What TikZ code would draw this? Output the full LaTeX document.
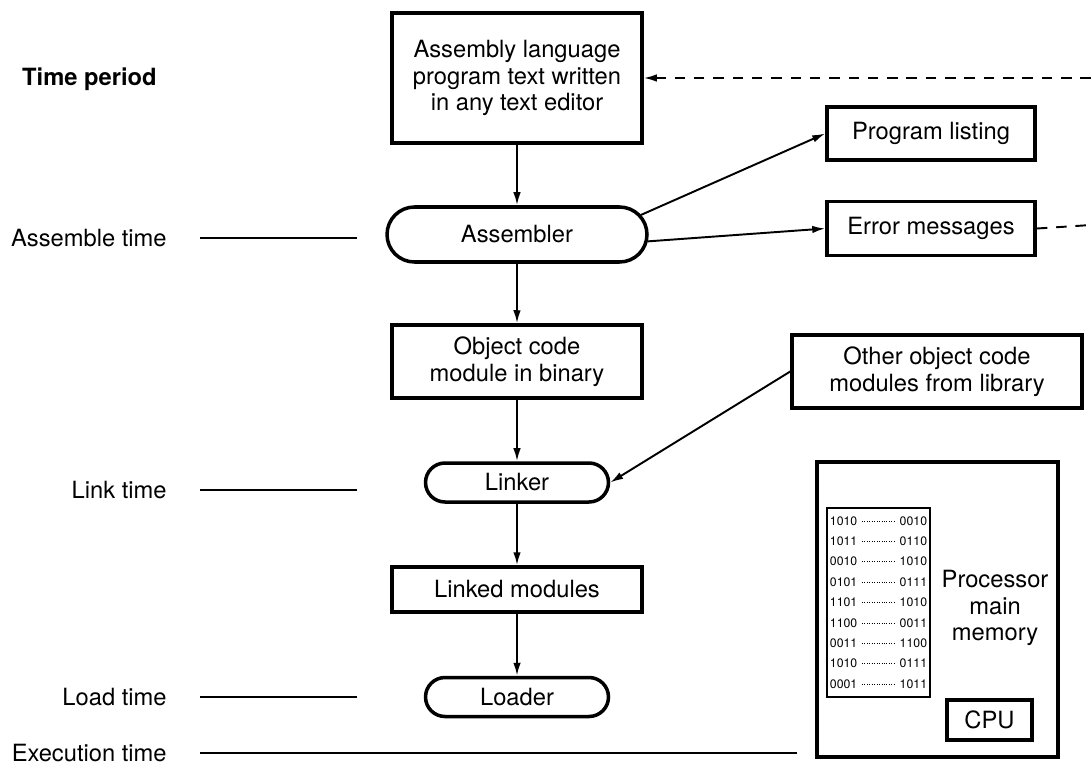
\documentclass[tikz,border=0pt]{standalone}
\usepackage{fontspec}
\setmainfont{TeX Gyre Heros}
\usetikzlibrary{arrows.meta,calc,shapes.misc,positioning}

\begin{document}
\begin{tikzpicture}[node distance=1.3cm, >={Latex[length=2.6mm,width=1.5mm]},
    font=\fontsize{13.5}{15.3}\selectfont,
    box/.style={rectangle, draw, line width=2pt, align=center, inner sep=2pt},
    pill/.style={rounded rectangle, draw, line width=2pt, minimum width=3.8cm, minimum height=0.78cm, inner sep=2pt},
    flow/.style={->, line width=1.1pt},
    dline/.style={line width=1.1pt, dash pattern=on 6pt off 5pt},
    tlabel/.style={anchor=east, inner sep=0pt},
    tline/.style={line width=1.3pt},
    bits/.style={inner sep=0.4pt, font=\fontsize{7}{8}\selectfont}]
    \useasboundingbox (0,0) rectangle (21.82,-15.32);

    % main column
    \node[box, minimum width=5cm, minimum height=2.6cm] (src) at (10.34,-1.56) {Assembly language\\program text written\\in any text editor};
    \node[pill, minimum width=5.34cm, minimum height=1.1cm] (asm) at (10.34,-4.69) {Assembler};
    \node[box, minimum width=5cm, minimum height=1.46cm] (obj) at (10.34,-7.23) {Object code\\module in binary};
    \node[pill] (lnk) at (10.34,-9.65) {Linker};
    \node[box, minimum width=5cm, minimum height=0.9cm] (lmod) at (10.34,-11.79) {Linked modules};
    \node[pill] (ldr) at (10.34,-13.94) {Loader};

    % outputs and library
    \node[box, minimum width=4.16cm, minimum height=1.06cm] (plist) at (18.62,-2.67) {Program listing};
    \node[box, minimum width=4.16cm, minimum height=1.08cm, below=0.76cm of plist] (err) {Error messages};
    \node[box, minimum width=5.8cm, minimum height=1.46cm] (lib) at (18.74,-7.43) {Other object code\\modules from library};

    % memory
    \node[box, minimum width=4.82cm, minimum height=5.9cm] (mem) at (18.75,-12.19) {};
    \node[draw, line width=1.3pt, minimum width=2.06cm, minimum height=3.78cm] (memtab) at (17.57,-12.05) {};
    \node[align=center] (memtxt) at (19.9,-12.16) {Processor\\main\\memory};
    \node[box, minimum width=1.7cm, minimum height=0.8cm] (cpu) at (19.79,-14.4) {CPU};
    \foreach \l/\r [count=\i from 0] in {1010/0010,1011/0110,0010/1010,0101/0111,1101/1010,1100/0011,0011/1100,1010/0111,0001/1011} {
        \node[bits, anchor=west] (l\i) at ($(memtab.north west)+(0.06,{-0.28-0.408*\i})$) {\l};
        \node[bits, anchor=east] (r\i) at ($(memtab.north east)+(-0.06,{-0.28-0.408*\i})$) {\r};
        \draw[densely dotted, line width=0.4pt, shorten <=2pt, shorten >=2pt] (l\i) -- (r\i);
    }

    % time periods
    \node[tlabel] (tper) at (3.14,-1.58) {\bfseries Time period};
    \node[tlabel] (tasm) at (3.34,-4.76) {Assemble time};
    \node[tlabel] (tlnk) at (3.34,-9.8) {Link time};
    \node[tlabel] (tldr) at (3.34,-13.94) {Load time};
    \node[tlabel] (texe) at (3.34,-15.06) {Execution time};
    \draw[tline] ([xshift=0.66cm]tasm.east) -- ([xshift=3.8cm]tasm.east);
    \draw[tline] ([xshift=0.66cm]tlnk.east) -- ([xshift=3.8cm]tlnk.east);
    \draw[tline] ([xshift=0.66cm]tldr.east) -- ([xshift=3.8cm]tldr.east);
    \draw[tline] ([xshift=0.66cm]texe.east) -- ([xshift=12.6cm]texe.east);

    % connectors
    \coordinate (topend) at (21.82,-1.56);
    \coordinate (errend) at (21.82,-4.5);
    \draw[flow] (src) -- (asm);
    \draw[flow] (asm.9) -- (plist.west);
    \draw[flow] (asm.-3) -- (err.west);
    \draw[flow] (asm) -- (obj);
    \draw[flow] (obj) -- (lnk);
    \draw[flow] (lib.west) -- (lnk.east);
    \draw[flow] (lnk) -- (lmod);
    \draw[flow] (lmod) -- (ldr);
    \draw[dline, ->] (topend) -- (src.east);
    \draw[dline] (err.east) -- (errend);
\end{tikzpicture}
\end{document}
